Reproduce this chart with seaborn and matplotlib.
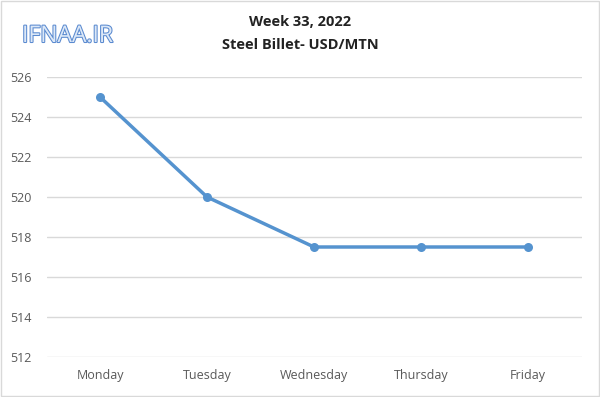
import matplotlib
matplotlib.use("Agg")
import matplotlib.pyplot as plt
import matplotlib.patheffects as pe
import pandas as pd
import seaborn as sns

# Data
days = ["Monday", "Tuesday", "Wednesday", "Thursday", "Friday"]
prices = [525, 520, 517.5, 517.5, 517.5]
yticks = [512, 514, 516, 518, 520, 522, 524, 526]

df = pd.DataFrame({"day": days, "price": prices})

sns.set_style("white")
plt.rcParams["font.family"] = ["Open Sans", "DejaVu Sans"]

fig = plt.figure(figsize=(6, 3.97), dpi=100)
ax = fig.add_axes([46.5 / 600, 1 - 357 / 397, 535 / 600, 280 / 397])

sns.lineplot(data=df, x="day", y="price", ax=ax, color="#5593CF",
             linewidth=2.5, marker="o", markersize=6.5, markeredgewidth=0,
             sort=False)

ax.set_xlim(-0.5, 4.5)
ax.set_ylim(512, 526)
ax.set_yticks(yticks)
ax.yaxis.grid(True, color="#d9d9d9", linewidth=1)
ax.set_xlabel("")
ax.set_ylabel("")
for s in ax.spines.values():
    s.set_visible(False)
ax.tick_params(axis="both", length=0, labelsize=9, colors="#595959")
ax.tick_params(axis="x", pad=9)
ax.tick_params(axis="y", pad=11)

# Titles
fig.text(0.5, 1 - 22 / 397, "Week 33, 2022", ha="center", va="center",
         fontsize=10.5, fontweight="bold", color="#222222")
fig.text(0.5, 1 - 45 / 397, "Steel Billet- USD/MTN", ha="center", va="center",
         fontsize=10.5, fontweight="bold", color="#222222")

# Watermark
fig.text(22 / 600, 1 - 36 / 397, "IFNAA.IR", ha="left", va="center",
         fontsize=16.5, color="#dce8f7",
         path_effects=[pe.withStroke(linewidth=1.5, foreground="#5a8ad0")])

# Thin chart border
fig.patches.append(plt.Rectangle((0.002, 0.003), 0.996, 0.994,
                                 transform=fig.transFigure, fill=False,
                                 edgecolor="#d9d9d9", linewidth=1))

fig.savefig("out.png", dpi=100)
